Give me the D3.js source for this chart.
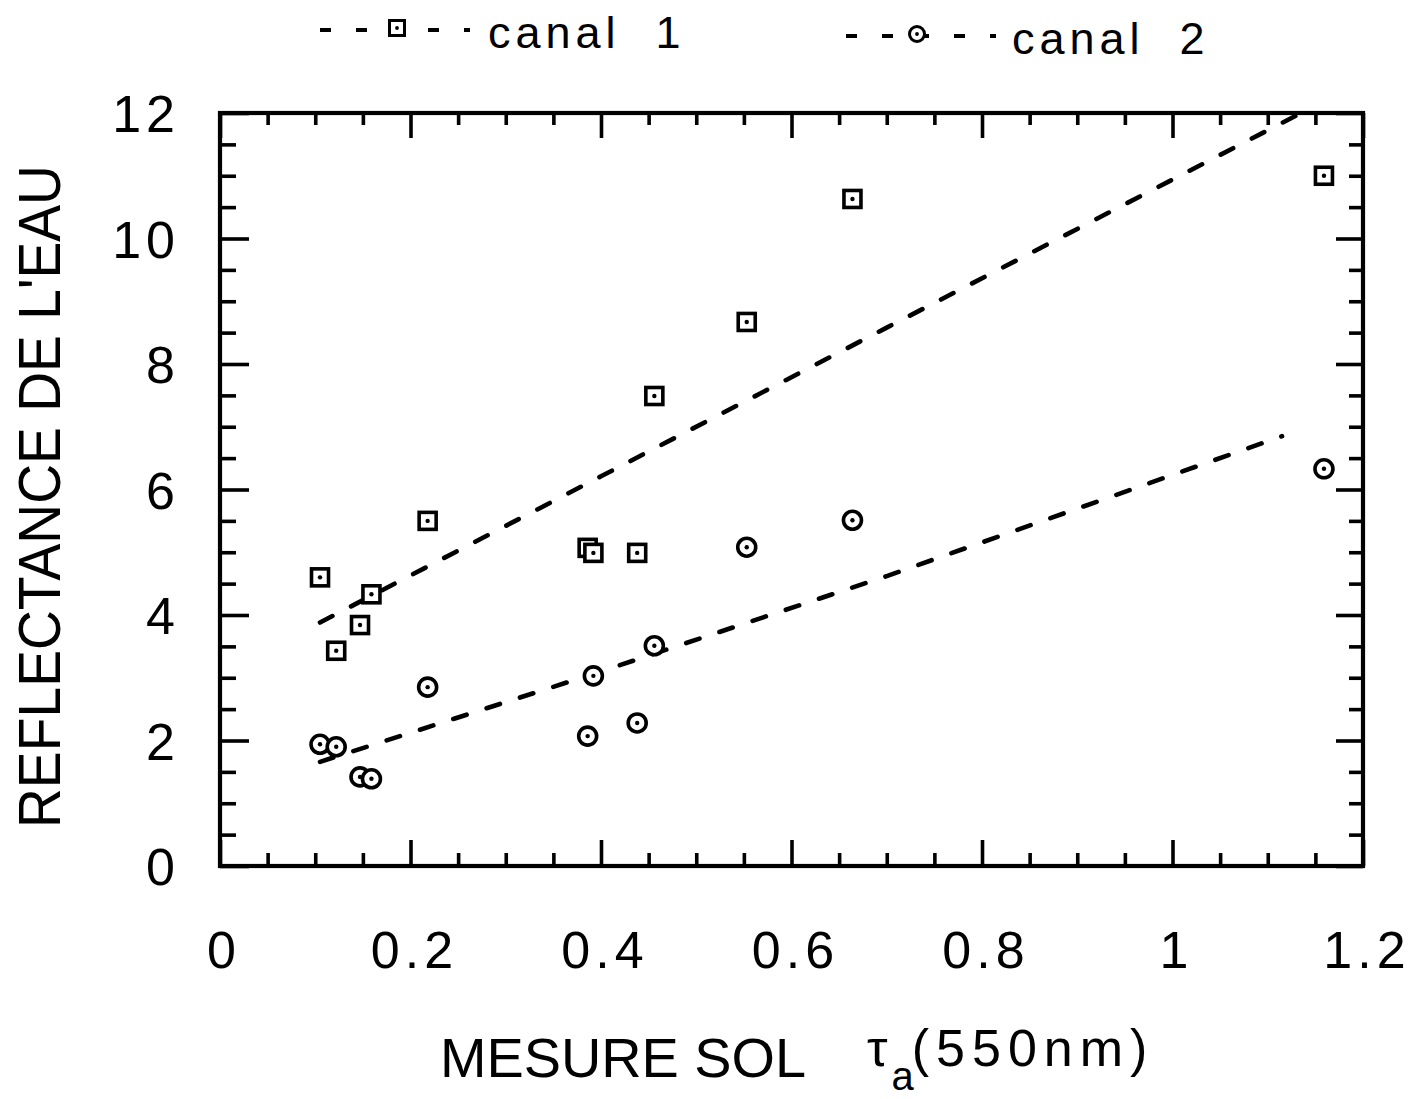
<!DOCTYPE html>
<html>
<head>
<meta charset="utf-8">
<script src="https://cdn.jsdelivr.net/npm/d3@7"></script>
<style>
  html, body { margin: 0; padding: 0; background: #fff; }
  svg { display: block; }
  text { font-family: "Liberation Sans", Arial, Helvetica, sans-serif; fill: #000; }
</style>
</head>
<body>
<svg id="chart" width="1414" height="1099"></svg>
<script>
// ---- data ----
const tau = [0.105, 0.122, 0.147, 0.159, 0.218, 0.386, 0.392, 0.438, 0.456, 0.553, 0.664, 1.159];
const canal1 = [4.60, 3.43, 3.84, 4.33, 5.50, 5.07, 4.99, 4.99, 7.49, 8.67, 10.63, 11.00];
const canal2 = [1.94, 1.90, 1.42, 1.39, 2.85, 2.07, 3.03, 2.28, 3.51, 5.08, 5.51, 6.33];

// dashed fit lines (as drawn in the figure)
const fit1X = [0.105, 0.40, 0.70, 1.135];
const fit1Y = [3.88, 6.21, 8.58, 12.0];
const fit2X = [0.105, 0.40, 0.70, 1.115];
const fit2Y = [1.66, 3.10, 4.62, 6.85];

const xMajorTicks = [0, 0.2, 0.4, 0.6, 0.8, 1, 1.2];
const xTickLabels = ["0", "0.2", "0.4", "0.6", "0.8", "1", "1.2"];
const yMajorTicks = [0, 2, 4, 6, 8, 10, 12];
const yTickLabels = ["0", "2", "4", "6", "8", "10", "12"];
const xMinorStep = 0.05;
const yMinorStep = 0.5;

const seriesNames = ["canal 1", "canal 2"];
const xTitle = "MESURE SOL";
const yTitle = "REFLECTANCE DE L'EAU";

// ---- layout ----
const L = 220, R = 1363, T = 113, B = 866;
const svg = d3.select("#chart");
const x = d3.scaleLinear().domain([0, 1.2]).range([L, R]);
const y = d3.scaleLinear().domain([0, 12]).range([B, T]);

const xMinor = d3.range(0, 1.2 + 1e-9, xMinorStep).map(v => +v.toFixed(3)).filter(v => !xMajorTicks.some(m => Math.abs(m - v) < 1e-6));
const yMinor = d3.range(0, 12 + 1e-9, yMinorStep).map(v => +v.toFixed(3)).filter(v => !yMajorTicks.some(m => Math.abs(m - v) < 1e-6));

function styleAxis(g) {
  g.select(".domain").remove();
  g.selectAll(".tick line").attr("stroke", "#000").attr("stroke-width", 3.6);
}

// bottom ticks (inward)
svg.append("g").attr("transform", `translate(0,${B})`)
  .call(d3.axisBottom(x).tickValues(xMinor).tickSize(-13).tickFormat(""))
  .call(styleAxis);
svg.append("g").attr("transform", `translate(0,${B})`)
  .call(d3.axisBottom(x).tickValues(xMajorTicks).tickSize(-26).tickFormat(""))
  .call(styleAxis);
// top ticks (inward)
svg.append("g").attr("transform", `translate(0,${T})`)
  .call(d3.axisTop(x).tickValues(xMinor).tickSize(-12).tickFormat(""))
  .call(styleAxis);
svg.append("g").attr("transform", `translate(0,${T})`)
  .call(d3.axisTop(x).tickValues(xMajorTicks).tickSize(-25).tickFormat(""))
  .call(styleAxis);
// left ticks
svg.append("g").attr("transform", `translate(${L},0)`)
  .call(d3.axisLeft(y).tickValues(yMinor).tickSize(-16).tickFormat(""))
  .call(styleAxis);
svg.append("g").attr("transform", `translate(${L},0)`)
  .call(d3.axisLeft(y).tickValues(yMajorTicks).tickSize(-29).tickFormat(""))
  .call(styleAxis);
// right ticks
svg.append("g").attr("transform", `translate(${R},0)`)
  .call(d3.axisRight(y).tickValues(yMinor).tickSize(-14).tickFormat(""))
  .call(styleAxis);
svg.append("g").attr("transform", `translate(${R},0)`)
  .call(d3.axisRight(y).tickValues(yMajorTicks).tickSize(-27).tickFormat(""))
  .call(styleAxis);

// frame
svg.append("rect").attr("x", L).attr("y", T).attr("width", R - L).attr("height", B - T)
  .attr("fill", "none").attr("stroke", "#000").attr("stroke-width", 4.2);

// tick labels
svg.append("g").selectAll("text").data(xMajorTicks).join("text")
  .attr("x", d => x(d) + 4).attr("y", 968)
  .attr("text-anchor", "middle").attr("font-size", 52).attr("letter-spacing", 5)
  .text((d, i) => xTickLabels[i]);
svg.append("g").selectAll("text").data(yMajorTicks).join("text")
  .attr("x", 180).attr("y", d => y(d) + 19)
  .attr("text-anchor", "end").attr("font-size", 52).attr("letter-spacing", 5)
  .text((d, i) => yTickLabels[i]);

// axis titles
svg.append("text").attr("x", 440).attr("y", 1077)
  .attr("font-size", 56).attr("textLength", 366).attr("lengthAdjust", "spacingAndGlyphs")
  .text(xTitle);
const tauT = svg.append("text").attr("x", 867).attr("y", 1066).attr("font-size", 52);
tauT.append("tspan").text("τ");
tauT.append("tspan").attr("font-size", 40).attr("dy", 24).attr("dx", 4).text("a");
tauT.append("tspan").attr("dy", -24).attr("dx", -2).attr("letter-spacing", 7).text("(550nm)");

svg.append("text")
  .attr("transform", `translate(60,${(165 + 828) / 2}) rotate(-90)`)
  .attr("text-anchor", "middle").attr("font-size", 59)
  .attr("textLength", 663).attr("lengthAdjust", "spacingAndGlyphs")
  .text(yTitle);

// fit lines
const line = d3.line().x(d => x(d[0])).y(d => y(d[1]));
const dashStyle = sel => sel.attr("fill", "none").attr("stroke", "#000").attr("stroke-width", 4.6)
  .attr("stroke-dasharray", "14,21").attr("stroke-linecap", "round");
svg.append("path").datum(fit1X.map((v, i) => [v, fit1Y[i]])).attr("d", line).call(dashStyle);
svg.append("path").datum(fit2X.map((v, i) => [v, fit2Y[i]])).attr("d", line).call(dashStyle);

// markers
function drawSquare(g, cx, cy) {
  g.append("rect").attr("x", cx - 8.5).attr("y", cy - 8.5).attr("width", 17).attr("height", 17)
    .attr("fill", "#fff").attr("stroke", "#000").attr("stroke-width", 3.6);
  g.append("circle").attr("cx", cx).attr("cy", cy).attr("r", 2.2).attr("fill", "#000");
}
function drawCircle(g, cx, cy) {
  g.append("circle").attr("cx", cx).attr("cy", cy).attr("r", 9)
    .attr("fill", "#fff").attr("stroke", "#000").attr("stroke-width", 3.6);
  g.append("circle").attr("cx", cx).attr("cy", cy).attr("r", 2.2).attr("fill", "#000");
}
const g1 = svg.append("g");
tau.forEach((t, i) => drawSquare(g1, x(t), y(canal1[i])));
const g2 = svg.append("g");
tau.forEach((t, i) => drawCircle(g2, x(t), y(canal2[i])));

// legend
const leg = svg.append("g");
function legendEntry(x0, yLine, marker, mx, my, tx, ty, label) {
  leg.append("line").attr("x1", x0).attr("x2", x0 + 150).attr("y1", yLine).attr("y2", yLine)
    .attr("stroke", "#000").attr("stroke-width", 4).attr("stroke-dasharray", "11,25");
  if (marker === "square") {
    leg.append("rect").attr("x", mx - 7.5).attr("y", my - 7.5).attr("width", 15).attr("height", 15)
      .attr("fill", "#fff").attr("stroke", "#000").attr("stroke-width", 3);
  } else {
    leg.append("circle").attr("cx", mx).attr("cy", my).attr("r", 7.5)
      .attr("fill", "#fff").attr("stroke", "#000").attr("stroke-width", 3);
  }
  leg.append("circle").attr("cx", mx).attr("cy", my).attr("r", 1.9).attr("fill", "#000");
  const t = leg.append("text").attr("x", tx).attr("y", ty).attr("font-size", 45).attr("letter-spacing", 5);
  t.text(label.replace(" ", "\u00a0\u00a0"));
}
legendEntry(320, 30, "square", 397, 28, 488, 48, seriesNames[0]);
legendEntry(846, 36, "circle", 917, 34, 1012, 54, seriesNames[1]);
</script>
</body>
</html>
